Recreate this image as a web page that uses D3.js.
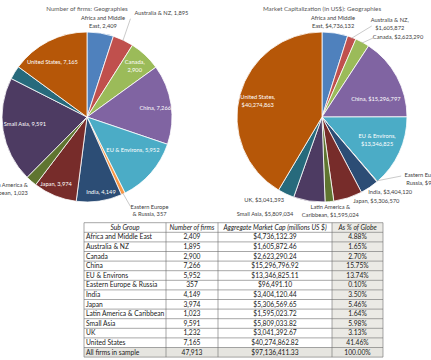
<!DOCTYPE html>
<html>
<head>
<meta charset="utf-8">
<script src="https://cdn.jsdelivr.net/npm/d3@7"></script>
<style>
  body { margin: 0; background: #fff; }
  svg { display: block; font-family: Lato, "Open Sans", sans-serif; }
</style>
</head>
<body>
<div id="chart"></div>
<script>
// Sub groups (same order for both pies and the table)
const regions = [
  'Africa and Middle East', 'Australia & NZ', 'Canada', 'China', 'EU & Environs',
  'Eastern Europe & Russia', 'India', 'Japan', 'Latin America & Caribbean',
  'Small Asia', 'UK', 'United States'
];
const firms = [2409, 1895, 2900, 7266, 5952, 357, 4149, 3974, 1023, 9591, 1232, 7165];
const marketCap = [
  4736132.39, 1605872.46, 2623290.24, 15296796.92, 13346825.11, 96491.10,
  3404120.44, 5306569.65, 1595023.72, 5809033.82, 3041392.67, 40274862.82
];
// totals row as printed in the source table
const totalLabel = 'All firms in sample';
const totalFirms = 47913;
const totalCap = 97136411.33;
const headers = ['Sub Group', 'Number of firms', 'Aggregate Market Cap (millions US $)', 'As % of Globe'];
const titles = ['Number of firms: Geographies', 'Market Capitalization (in US$): Geographies'];

const colors = ['#4F81BD', '#C0504D', '#9BBB59', '#8064A2', '#4BACC6', '#F79646',
  '#2C4D75', '#772C2A', '#5F7530', '#4D3B62', '#276A7C', '#B65708'];

const width = 431, height = 360;
const R = 85;

// label layout per slice: rf = radius factor, nudge, words on first line, inside (white) or not
const leftLayout = [
  { rf: 1.12, dx: 1, dy: -1, wrap: 3 },
  { rf: 1.2, dx: 31, dy: -12, lead: [-31, 6] },
  { rf: 0.82, dx: 0, dy: 0, wrap: 1, inside: true },
  { rf: 0.8, dx: 1, dy: 1, inside: true },
  { rf: 0.67, dx: 3, dy: -4.5, inside: true },
  { rf: 1.12, dx: 22, dy: 7.5, wrap: 2, lead: [-19, -4] },
  { rf: 0.9, dx: 3, dy: -1, inside: true },
  { rf: 0.87, dx: -3, dy: -1.5, inside: true },
  { rf: 1.15, dx: 5, dy: -2, wrap: 3, anchor: 'end' },
  { rf: 0.74, dx: 0, dy: -3, inside: true },
  null,
  { rf: 0.77, dx: -5, dy: 3.4, inside: true }
];
const rightLayout = [
  { rf: 1.12, dx: -3.5, dy: -1, wrap: 3 },
  { rf: 1.2, dx: 32, dy: 2.5, wrap: 3, lead: [-18, 2] },
  { rf: 1.1, dx: 31.6, dy: 2.3, lead: [-25, 1] },
  { rf: 0.68, dx: 3, dy: 9.5, inside: true },
  { rf: 0.7, dx: 1, dy: -2, wrap: 3, inside: true },
  { rf: 1.2, dx: 38, dy: -15.6, wrap: 3, lead: [-25, -3] },
  { rf: 1.1, dx: 16, dy: -2.6 },
  { rf: 1.05, dx: 27, dy: -1 },
  { rf: 1.12, dx: 0, dy: -1, wrap: 3 },
  { rf: 1.12, dx: -42.6, dy: 3 },
  { rf: 1.05, dx: -20, dy: 2 },
  { rf: 0.76, dx: -2, dy: 1, wrap: 2, inside: true }
];

const fmtInt = d3.format(',');
const fmtCap = d3.format('$,.0f');
const fmtCap2 = d3.format('$,.2f');
const fmtPct = d3.format('.2%');

const svg = d3.select('#chart').append('svg')
  .attr('width', width)
  .attr('height', height);

function drawPie(cx, cy, values, fmt, layout, title) {
  const g = svg.append('g').attr('transform', `translate(${cx},${cy})`);
  const pie = d3.pie().sort(null).value(d => d);
  const arcs = pie(values);
  const arc = d3.arc().innerRadius(0).outerRadius(R);

  g.selectAll('path.slice')
    .data(arcs)
    .enter().append('path')
    .attr('class', 'slice')
    .attr('d', arc)
    .attr('fill', (d, i) => colors[i])
    .attr('stroke', '#fff')
    .attr('stroke-width', 0.8);

  svg.append('text')
    .attr('x', cx)
    .attr('y', 11)
    .attr('text-anchor', 'middle')
    .attr('font-size', 6.2)
    .attr('fill', '#595959')
    .text(title);

  const fs = 5.7, lh = 7.6;
  arcs.forEach((a, i) => {
    const lay = layout[i];
    if (!lay) return;
    const mid = (a.startAngle + a.endAngle) / 2;
    const x = Math.sin(mid) * R * lay.rf + lay.dx;
    const y = -Math.cos(mid) * R * lay.rf + lay.dy;
    const words = `${regions[i]}, ${fmt(values[i])}`.split(' ');
    const lines = lay.wrap ? [words.slice(0, lay.wrap).join(' '), words.slice(lay.wrap).join(' ')] : [words.join(' ')];

    if (lay.lead) {
      g.append('line')
        .attr('x1', Math.sin(mid) * (R - 1))
        .attr('y1', -Math.cos(mid) * (R - 1))
        .attr('x2', x + lay.lead[0])
        .attr('y2', y + lay.lead[1])
        .attr('stroke', '#a6a6a6')
        .attr('stroke-width', 0.6);
    }

    const t = g.append('text')
      .attr('text-anchor', lay.anchor || 'middle')
      .attr('font-size', fs)
      .attr('fill', lay.inside ? '#fff' : '#404040');
    lines.forEach((l, k) => {
      t.append('tspan')
        .attr('x', x)
        .attr('y', y - (lines.length - 1) * lh / 2 + k * lh + fs * 0.35)
        .text(l);
    });
  });
}

drawPie(87, 117, firms, fmtInt, leftLayout, titles[0]);
drawPie(322, 117, marketCap, fmtCap, rightLayout, titles[1]);

// ---- table ----
const rows = regions.map((r, i) => [r, fmtInt(firms[i]), fmtCap2(marketCap[i]), fmtPct(marketCap[i] / totalCap)]);
rows.push([totalLabel, fmtInt(totalFirms), fmtCap2(totalCap), fmtPct(1)]);

const colEdges = [84, 166, 218, 332, 383];
const rowH = 9.6, tableTop = 222.7;
const yRow = d3.scaleLinear().domain([0, 1]).range([tableTop, tableTop + rowH]);
const tg = svg.append('g').attr('class', 'table');

// shaded cells: last column and the totals row
tg.append('rect')
  .attr('x', colEdges[3]).attr('y', yRow(0))
  .attr('width', colEdges[4] - colEdges[3])
  .attr('height', yRow(rows.length + 1) - yRow(0))
  .attr('fill', '#EBEAE5');
tg.append('rect')
  .attr('x', colEdges[0]).attr('y', yRow(rows.length))
  .attr('width', colEdges[4] - colEdges[0])
  .attr('height', rowH)
  .attr('fill', '#E6E5E0');

// grid
d3.range(rows.length + 2).forEach(r => {
  tg.append('line')
    .attr('x1', colEdges[0]).attr('x2', colEdges[4])
    .attr('y1', yRow(r)).attr('y2', yRow(r))
    .attr('stroke', '#6b6b6b').attr('stroke-width', 0.6);
});
colEdges.forEach(x => {
  tg.append('line')
    .attr('x1', x).attr('x2', x)
    .attr('y1', yRow(0)).attr('y2', yRow(rows.length + 1))
    .attr('stroke', '#6b6b6b').attr('stroke-width', 0.6);
});

const cellX = (c) => c === 0 ? colEdges[0] + 2 : (colEdges[c] + colEdges[c + 1]) / 2;
const tfs = 6.7;

tg.selectAll('text.head')
  .data(headers)
  .enter().append('text')
  .attr('class', 'head')
  .attr('x', (d, c) => (colEdges[c] + colEdges[c + 1]) / 2)
  .attr('y', yRow(0.5) + tfs * 0.35)
  .attr('text-anchor', 'middle')
  .attr('font-size', tfs)
  .attr('font-style', 'italic')
  .attr('fill', '#1a1a1a')
  .text(d => d);

rows.forEach((row, r) => {
  row.forEach((v, c) => {
    tg.append('text')
      .attr('x', cellX(c))
      .attr('y', yRow(r + 1.5) + tfs * 0.35)
      .attr('text-anchor', c === 0 ? 'start' : 'middle')
      .attr('font-size', tfs)
      .attr('fill', '#1a1a1a')
      .text(v);
  });
});
</script>
</body>
</html>
